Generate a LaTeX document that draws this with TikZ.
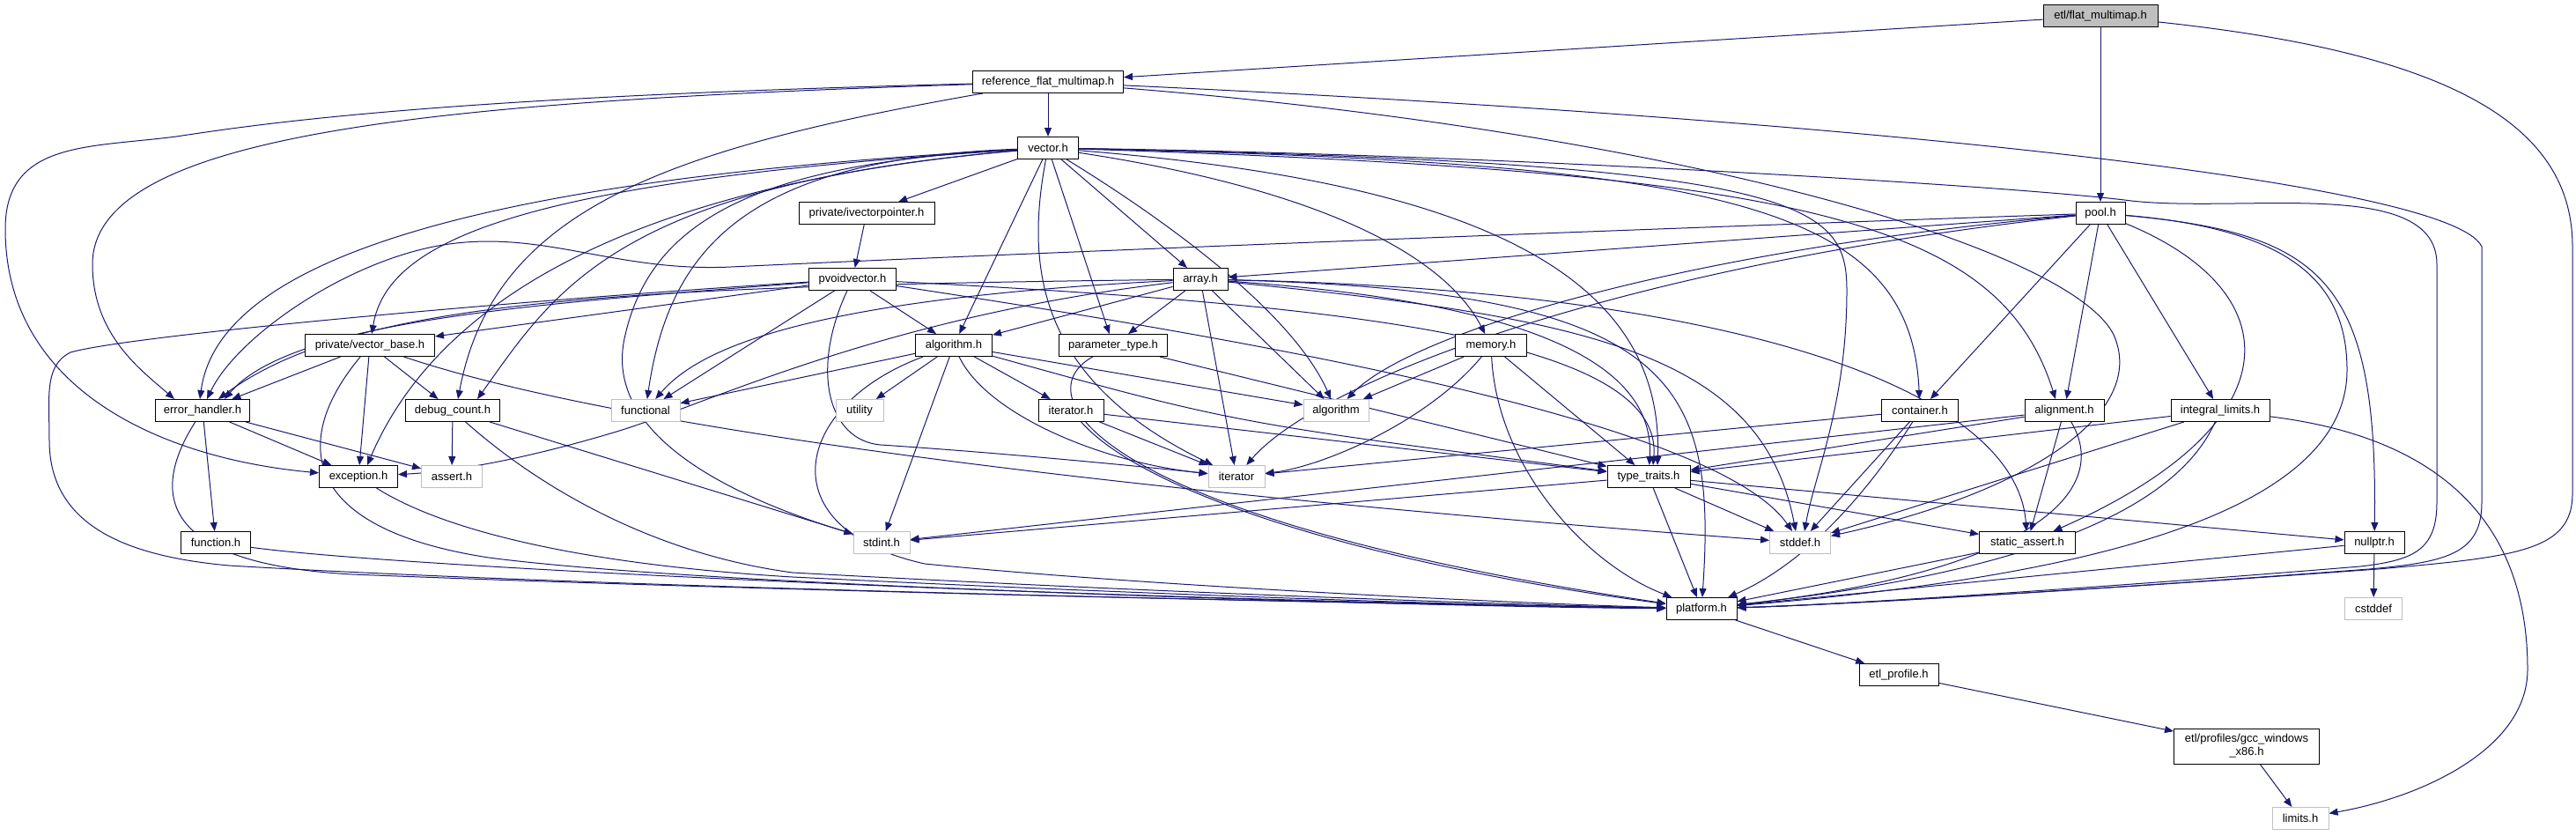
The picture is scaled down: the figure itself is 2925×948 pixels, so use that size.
\documentclass[tikz,border=0pt]{standalone}
\usepackage{fontspec}
\setmainfont{Liberation Sans}
\usetikzlibrary{arrows.meta}
\definecolor{edgecol}{HTML}{191970}
\definecolor{extgray}{HTML}{BFBFBF}
\pgfdeclarelayer{background}
\pgfsetlayers{background,main}
\tikzset{
  box/.style={draw=black, line width=1pt, fill=white, minimum height=25pt, inner sep=0pt, font=\fontsize{13}{15}\selectfont},
  ext/.style={box, draw=extgray},
  root/.style={box, fill=extgray},
  edge/.style={draw=edgecol, line width=1pt, -{Triangle[length=10pt,width=8pt]}}
}
\begin{document}
\begin{tikzpicture}[x=1pt,y=-1pt]
\useasboundingbox (0,0) rectangle (2925,948);
% nodes
\node[root, minimum width=130pt] (flat) at (2385,18) {etl/flat\_multimap.h};
\node[box, minimum width=171pt] (ref) at (1190,93) {reference\_flat\_multimap.h};
\node[box, minimum width=69pt] (vec) at (1190,168) {vector.h};
\node[box, minimum width=154pt] (ivp) at (984,242) {private/ivectorpointer.h};
\node[box, minimum width=56pt] (pool) at (2385,242) {pool.h};
\node[box, minimum width=99pt] (pvoid) at (968,317) {pvoidvector.h};
\node[box, minimum width=62pt] (arr) at (1363,317) {array.h};
\node[box, minimum width=147pt] (vbase) at (420,392) {private/vector\_base.h};
\node[box, minimum width=87pt] (algh) at (1083,392) {algorithm.h};
\node[box, minimum width=123pt] (param) at (1264,392) {parameter\_type.h};
\node[box, minimum width=81pt] (mem) at (1693,392) {memory.h};
\node[box, minimum width=107pt] (errh) at (230,466) {error\_handler.h};
\node[box, minimum width=107pt] (dbg) at (514,466) {debug\_count.h};
\node[ext, minimum width=78pt] (fnl) at (733,466) {functional};
\node[ext, minimum width=54pt] (util) at (976,466) {utility};
\node[box, minimum width=74pt] (iterh) at (1216,466) {iterator.h};
\node[ext, minimum width=74pt] (algo) at (1517,466) {algorithm};
\node[box, minimum width=87pt] (cont) at (2180,466) {container.h};
\node[box, minimum width=90pt] (align) at (2344,466) {alignment.h};
\node[box, minimum width=112pt] (ilim) at (2521,466) {integral\_limits.h};
\node[box, minimum width=89pt] (exc) at (407,541) {exception.h};
\node[ext, minimum width=69pt] (asrt) at (513,541) {assert.h};
\node[ext, minimum width=64pt] (iter) at (1404,541) {iterator};
\node[box, minimum width=94pt] (tt) at (1872,541) {type\_traits.h};
\node[box, minimum width=79pt] (func) at (245,616) {function.h};
\node[ext, minimum width=64pt] (stdint) at (1001,616) {stdint.h};
\node[ext, minimum width=69pt] (stddef) at (2044,616) {stddef.h};
\node[box, minimum width=109pt] (sasrt) at (2302,616) {static\_assert.h};
\node[box, minimum width=68pt] (nptr) at (2696,616) {nullptr.h};
\node[box, minimum width=80pt] (plat) at (1932,691) {platform.h};
\node[ext, minimum width=65pt] (cstd) at (2695,691) {cstddef};
\node[box, minimum width=90pt] (prof) at (2156,766) {etl\_profile.h};
\node[box, minimum width=165pt, minimum height=40pt, align=center] (gcc) at (2551,847) {etl/profiles/gcc\_windows\\\_x86.h};
\node[ext, minimum width=64pt] (lim) at (2612,929) {limits.h};

\begin{pgfonlayer}{background}
% flat_multimap
\draw[edge] (flat) -- (ref);
\draw[edge] (flat) -- (pool);
\draw[edge] (flat) .. controls (2780,60) and (2921,140) .. (2921,280) -- (2921,560) .. controls (2921,625) and (2860,632) .. (2700,646) .. controls (2400,668) and (2100,686) .. (plat);
% reference_flat_multimap
\draw[edge] (ref) -- (vec);
\draw[edge] (ref) .. controls (500,110) and (300,140) .. (200,155) .. controls (100,168) and (6,160) .. (6,260) .. controls (6,440) and (180,520) .. (exc);
\draw[edge] (ref) .. controls (500,115) and (105,150) .. (105,300) .. controls (105,380) and (160,420) .. ([xshift=-32pt]errh.north);
\draw[edge] (ref) .. controls (750,170) and (560,240) .. ([xshift=6pt]dbg.north);
\draw[edge] (ref) .. controls (1900,150) and (2350,280) .. (2400,380) .. controls (2440,470) and (2300,560) .. (stddef);
\draw[edge] (ref) .. controls (2000,130) and (2780,200) .. (2818,280) -- (2818,570) .. controls (2818,628) and (2780,638) .. (2690,646) .. controls (2400,668) and (2100,686) .. (plat);
% vector.h
\draw[edge] (vec) -- (ivp);
\draw[edge] (vec) -- (algh);
\draw[edge] (vec) .. controls (1165,300) and (1175,430) .. (iter);
\draw[edge] (vec) -- (param);
\draw[edge] (vec) -- (arr);
\draw[edge] (vec) .. controls (1340,260) and (1470,360) .. (algo);
\draw[edge] (vec) .. controls (1500,215) and (1640,290) .. (mem);
\draw[edge] (vec) .. controls (1650,205) and (1890,300) .. ([xshift=10pt]tt.north);
\draw[edge] (vec) .. controls (1950,185) and (2170,230) .. (cont);
\draw[edge] (vec) .. controls (2050,195) and (2270,250) .. ([xshift=-10pt]align.north);
\draw[edge] (vec) .. controls (2050,185) and (2097,230) .. (2097,330) .. controls (2097,460) and (2060,540) .. ([xshift=5pt]stddef.north);
\draw[edge] (vec) .. controls (1700,175) and (2300,212) .. (2420,228) .. controls (2550,242) and (2767,200) .. (2767,300) -- (2767,570) .. controls (2767,625) and (2740,636) .. (2680,643) .. controls (2400,666) and (2100,686) .. (plat);
\draw[edge] (vec) .. controls (600,200) and (250,280) .. ([xshift=-3pt]errh.north);
\draw[edge] (vec) .. controls (600,205) and (440,270) .. (vbase);
\draw[edge] (vec) .. controls (650,215) and (480,380) .. ([xshift=10pt]exc.north);
\draw[edge] (vec) .. controls (700,210) and (630,330) .. ([xshift=28pt]dbg.north);
\draw[edge] (vec) .. controls (850,180) and (760,280) .. (fnl);
\draw[edge] (vec) .. controls (860,185) and (740,250) .. (710,380) .. controls (680,500) and (850,570) .. (stdint);
% ivectorpointer
\draw[edge] (ivp) -- (pvoid);
% pool.h
\draw[edge] (pool) .. controls (1800,262) and (1100,290) .. (830,303) .. controls (700,309) and (620,262) .. (510,277) .. controls (400,292) and (270,380) .. ([xshift=5pt]errh.north);
\draw[edge] (pool) -- (arr);
\draw[edge] (pool) .. controls (1900,285) and (1600,380) .. (algo);
\draw[edge] (pool) .. controls (1850,300) and (1500,430) .. (iter);
\draw[edge] (pool) -- (cont);
\draw[edge] (pool) -- (align);
\draw[edge] (pool) -- (ilim);
\draw[edge] (pool) .. controls (2600,330) and (2610,480) .. (sasrt);
\draw[edge] (pool) .. controls (2600,260) and (2665,320) .. (2665,420) .. controls (2665,600) and (2300,660) .. (plat);
\draw[edge] (pool) .. controls (2640,265) and (2700,320) .. (nptr);
% pvoidvector.h
\draw[edge] (pvoid) -- (vbase);
\draw[edge] (pvoid) .. controls (600,345) and (330,365) .. ([xshift=25pt]errh.north);
\draw[edge] (pvoid) .. controls (600,340) and (150,380) .. (80,400) .. controls (50,415) and (56,450) .. (56,500) .. controls (56,600) and (150,632) .. (260,642) .. controls (700,668) and (1500,684) .. (plat);
\draw[edge] (pvoid) -- (fnl);
\draw[edge] (pvoid) -- (algh);
\draw[edge] (pvoid) .. controls (920,420) and (940,500) .. (1000,505) .. controls (1150,515) and (1300,530) .. (iter);
\draw[edge] (pvoid) .. controls (1500,345) and (1890,380) .. ([xshift=5pt]tt.north);
\draw[edge] (pvoid) .. controls (1450,390) and (1950,480) .. (stddef);
% array.h
\draw[edge] (arr) -- (algh);
\draw[edge] (arr) -- (param);
\draw[edge] (arr) -- (iter);
\draw[edge] (arr) -- (algo);
\draw[edge] (arr) .. controls (900,340) and (790,400) .. (fnl);
\draw[edge] (arr) .. controls (1000,360) and (800,460) .. (700,490) .. controls (600,520) and (520,535) .. (exc);
\draw[edge] (arr) .. controls (700,325) and (400,340) .. ([xshift=18pt]errh.north);
\draw[edge] (arr) .. controls (1700,340) and (1880,400) .. (tt);
\draw[edge] (arr) .. controls (1800,360) and (2000,400) .. ([xshift=-5pt]stddef.north);
\draw[edge] (arr) .. controls (2000,330) and (2290,450) .. (sasrt);
\draw[edge] (arr) .. controls (1900,330) and (1950,430) .. (plat);
% vector_base
\draw[edge] (vbase) -- (errh);
\draw[edge] (vbase) -- (exc);
\draw[edge] (vbase) -- (dbg);
\draw[edge] (vbase) .. controls (800,520) and (1700,590) .. (stddef);
\draw[edge] (vbase) .. controls (330,500) and (340,600) .. (555,633) .. controls (800,665) and (1500,684) .. (plat);
% algorithm.h
\draw[edge] (algh) -- (fnl);
\draw[edge] (algh) -- (util);
\draw[edge] (algh) -- (algo);
\draw[edge] (algh) -- (iterh);
\draw[edge] (algh) .. controls (1120,470) and (1250,525) .. (iter);
\draw[edge] (algh) .. controls (1400,480) .. (tt);
\draw[edge] (algh) -- (stdint);
\draw[edge] (algh) .. controls (900,460) and (870,600) .. (1050,640) .. controls (1300,665) and (1700,684) .. (plat);
% parameter_type
\draw[edge] (param) -- (tt);
\draw[edge] (param) .. controls (1160,450) and (1250,590) .. (plat);
% memory
\draw[edge] (mem) -- (algo);
\draw[edge] (mem) .. controls (1620,480) and (1500,530) .. (iter);
\draw[edge] (mem) -- (tt);
\draw[edge] (mem) .. controls (1700,530) and (1800,640) .. (plat);
% iterator.h
\draw[edge] (iterh) -- (iter);
\draw[edge] (iterh) -- (tt);
\draw[edge] (iterh) .. controls (1300,560) and (1550,640) .. (plat);
% error_handler
\draw[edge] (errh) -- (exc);
\draw[edge] (errh) -- (asrt);
\draw[edge] (errh) -- (func);
\draw[edge] (errh) .. controls (170,560) and (180,640) .. (400,652) .. controls (900,672) and (1600,686) .. (plat);
% debug_count
\draw[edge] (dbg) -- (asrt);
\draw[edge] (dbg) -- (stdint);
\draw[edge] (dbg) .. controls (620,560) and (750,630) .. (900,650) .. controls (1300,672) and (1700,686) .. (plat);
% exception, function
\draw[edge] (exc) .. controls (500,600) and (650,640) .. (900,655) .. controls (1300,675) and (1700,688) .. (plat);
\draw[edge] (func) .. controls (500,650) and (1500,688) .. (plat);
% container
\draw[edge] (cont) -- (iter);
\draw[edge] (cont) -- (stddef);
\draw[edge] (cont) .. controls (2120,560) and (2050,640) .. (plat);
% alignment
\draw[edge] (align) -- (tt);
\draw[edge] (align) -- (stdint);
\draw[edge] (align) -- (sasrt);
\draw[edge] (align) .. controls (2400,560) and (2300,650) .. (plat);
% integral_limits
\draw[edge] (ilim) -- (tt);
\draw[edge] (ilim) -- (stddef);
\draw[edge] (ilim) .. controls (2470,580) and (2300,650) .. (plat);
\draw[edge] (ilim) .. controls (2800,500) and (2870,620) .. (2870,760) .. controls (2870,850) and (2750,905) .. (lim);
% type_traits
\draw[edge] (tt) -- (stdint);
\draw[edge] (tt) -- (stddef);
\draw[edge] (tt) -- (sasrt);
\draw[edge] (tt) -- (nptr);
\draw[edge] (tt) -- (plat);
% rest
\draw[edge] (sasrt) -- (plat);
\draw[edge] (nptr) -- (plat);
\draw[edge] (nptr) -- (cstd);
\draw[edge] (plat) -- (prof);
\draw[edge] (prof) -- (gcc);
\draw[edge] (gcc) -- (lim);
\end{pgfonlayer}
\end{tikzpicture}
\end{document}
